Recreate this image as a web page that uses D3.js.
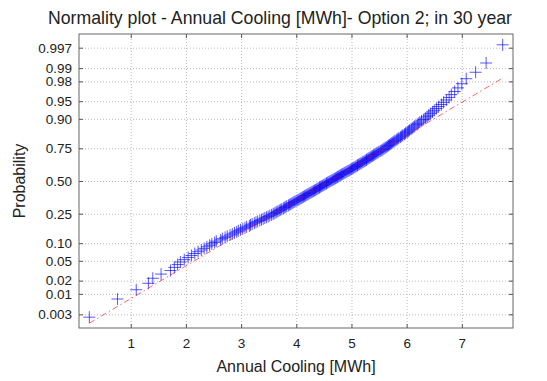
<!DOCTYPE html>
<html>
<head>
<meta charset="utf-8">
<script src="https://cdn.jsdelivr.net/npm/d3@7"></script>
<style>
  body { margin: 0; background: #fff; }
  svg { display: block; font-family: "Liberation Sans", Arial, sans-serif; }
  .axis path { display: none; }
  .axis line { stroke: #555; }
  .axis text { fill: #222; font-size: 13.5px; }
  .grid line { stroke: #bbb; stroke-dasharray: 1,2; }
  .grid path, .grid text { display: none; }
</style>
</head>
<body>
<script>
// sorted sample of annual cooling (MWh)
var coolingMWh = [
  0.25, 0.76, 1.10, 1.32, 1.40, 1.55, 1.72, 1.79, 1.85, 1.90,
  1.97, 2.04, 2.10, 2.16, 2.22, 2.28, 2.33, 2.38, 2.43, 2.47,
  2.52, 2.55, 2.63, 2.66, 2.71, 2.75, 2.80, 2.84, 2.88, 2.92,
  2.95, 2.99, 3.03, 3.07, 3.10, 3.15, 3.17, 3.20, 3.24, 3.27,
  3.30, 3.34, 3.37, 3.40, 3.43, 3.46, 3.49, 3.52, 3.55, 3.58,
  3.60, 3.63, 3.65, 3.67, 3.70, 3.72, 3.74, 3.77, 3.79, 3.81,
  3.83, 3.86, 3.88, 3.90, 3.92, 3.94, 3.96, 3.98, 4.01, 4.03,
  4.05, 4.07, 4.09, 4.11, 4.13, 4.15, 4.17, 4.19, 4.21, 4.23,
  4.25, 4.27, 4.29, 4.31, 4.33, 4.35, 4.37, 4.39, 4.41, 4.42,
  4.44, 4.46, 4.48, 4.50, 4.52, 4.54, 4.55, 4.57, 4.59, 4.61,
  4.63, 4.65, 4.67, 4.69, 4.71, 4.73, 4.75, 4.76, 4.78, 4.80,
  4.82, 4.84, 4.86, 4.88, 4.90, 4.92, 4.94, 4.96, 4.98, 5.00,
  5.02, 5.04, 5.06, 5.08, 5.10, 5.11, 5.13, 5.15, 5.17, 5.19,
  5.21, 5.23, 5.25, 5.27, 5.28, 5.30, 5.32, 5.34, 5.36, 5.38,
  5.40, 5.42, 5.44, 5.46, 5.48, 5.50, 5.53, 5.55, 5.57, 5.59,
  5.61, 5.63, 5.65, 5.67, 5.69, 5.71, 5.73, 5.75, 5.77, 5.79,
  5.82, 5.84, 5.86, 5.89, 5.91, 5.93, 5.96, 5.98, 6.01, 6.03,
  6.05, 6.08, 6.10, 6.13, 6.15, 6.19, 6.21, 6.24, 6.27, 6.31,
  6.34, 6.37, 6.40, 6.43, 6.47, 6.50, 6.54, 6.58, 6.63, 6.67,
  6.72, 6.77, 6.81, 6.87, 6.93, 7.00, 7.08, 7.25, 7.44, 7.74
];
var xTicks = [1, 2, 3, 4, 5, 6, 7];
var probTicks = [0.003, 0.01, 0.02, 0.05, 0.10, 0.25, 0.50, 0.75, 0.90, 0.95, 0.98, 0.99, 0.997];
var probLabels = ['0.003', '0.01', '0.02', '0.05', '0.10', '0.25', '0.50', '0.75', '0.90', '0.95', '0.98', '0.99', '0.997'];

var width = 547, height = 381;
var margin = { left: 79, top: 34, right: 34, bottom: 53 };
var w = width - margin.left - margin.right;
var h = height - margin.top - margin.bottom;

// inverse normal cdf (Acklam)
function norminv(p) {
    var a = [-3.969683028665376e+01, 2.209460984245205e+02, -2.759285104469687e+02, 1.383577518672690e+02, -3.066479806614716e+01, 2.506628277459239e+00];
    var b = [-5.447609879822406e+01, 1.615858368580409e+02, -1.556989798598866e+02, 6.680131188771972e+01, -1.328068155288572e+01];
    var c = [-7.784894002430293e-03, -3.223964580411365e-01, -2.400758277161838e+00, -2.549732539343734e+00, 4.374664141464968e+00, 2.938163982698783e+00];
    var d = [7.784695709041462e-03, 3.224671290700398e-01, 2.445134137142996e+00, 3.754408661907416e+00];
    var q, r;
    if (p < 0.02425) {
        q = Math.sqrt(-2 * Math.log(p));
        return (((((c[0]*q+c[1])*q+c[2])*q+c[3])*q+c[4])*q+c[5]) / ((((d[0]*q+d[1])*q+d[2])*q+d[3])*q+1);
    }
    if (p > 1 - 0.02425) {
        q = Math.sqrt(-2 * Math.log(1 - p));
        return -(((((c[0]*q+c[1])*q+c[2])*q+c[3])*q+c[4])*q+c[5]) / ((((d[0]*q+d[1])*q+d[2])*q+d[3])*q+1);
    }
    q = p - 0.5; r = q * q;
    return (((((a[0]*r+a[1])*r+a[2])*r+a[3])*r+a[4])*r+a[5])*q / (((((b[0]*r+b[1])*r+b[2])*r+b[3])*r+b[4])*r+1);
}

var n = coolingMWh.length;
var points = coolingMWh.map(function (v, i) {
    return { x: v, z: norminv((i + 0.5) / n) };
});

var xMin = d3.min(coolingMWh), xMax = d3.max(coolingMWh);
var pad = (xMax - xMin) / 40;
var x = d3.scaleLinear().domain([xMin - pad, xMax + pad]).range([0, w]);
var y = d3.scaleLinear().domain([-3.03, 3.03]).range([h, 0]);

var svg = d3.select("body").append("svg").attr("width", width).attr("height", height);
var g = svg.append("g").attr("transform", "translate(" + margin.left + "," + margin.top + ")");

// grid
g.append("g").attr("class", "grid")
    .attr("transform", "translate(0," + h + ")")
    .call(d3.axisBottom(x).tickValues(xTicks).tickSize(-h).tickFormat(""));
g.append("g").attr("class", "grid")
    .call(d3.axisLeft(y).tickValues(probTicks.map(norminv)).tickSize(-w).tickFormat(""));

// axes, ticks inside like matlab
g.append("g").attr("class", "axis")
    .attr("transform", "translate(0," + h + ")")
    .call(d3.axisBottom(x).tickValues(xTicks).tickSizeInner(-4).tickSizeOuter(0).tickPadding(10));
g.append("g").attr("class", "axis")
    .call(d3.axisTop(x).tickValues(xTicks).tickSizeInner(-4).tickSizeOuter(0).tickFormat(""));
g.append("g").attr("class", "axis")
    .call(d3.axisLeft(y).tickValues(probTicks.map(norminv)).tickSizeInner(-4).tickSizeOuter(0).tickPadding(7)
        .tickFormat(function (d, i) { return probLabels[i]; }));
g.append("g").attr("class", "axis")
    .attr("transform", "translate(" + w + ",0)")
    .call(d3.axisRight(y).tickValues(probTicks.map(norminv)).tickSizeInner(-4).tickSizeOuter(0).tickFormat(""));

g.append("rect").attr("width", w).attr("height", h)
    .attr("fill", "none").attr("stroke", "#666");

// reference line through quartiles
var q1 = d3.quantile(coolingMWh, 0.25), q3 = d3.quantile(coolingMWh, 0.75);
var zq = norminv(0.75);
var slope = 2 * zq / (q3 - q1);
var zAt = function (v) { return -zq + (v - q1) * slope; };
var line = d3.line().x(function (d) { return x(d); }).y(function (d) { return y(zAt(d)); });

g.append("path").attr("d", line([q1, q3]))
    .attr("fill", "none").attr("stroke", "#ff0000").attr("stroke-opacity", 0.6);

// data markers '+'
var s = 6;
g.append("g").selectAll("path").data(points).enter().append("path")
    .attr("d", function (d) {
        var px = x(d.x), py = y(d.z);
        return "M" + (px - s) + "," + py + "H" + (px + s) + "M" + px + "," + (py - s) + "V" + (py + s);
    })
    .attr("fill", "none")
    .attr("stroke", "#0000ff")
    .attr("stroke-opacity", 0.65)
    .attr("stroke-width", 1);

g.append("path").attr("d", line([xMin, xMax]))
    .attr("fill", "none").attr("stroke", "#ff0000").attr("stroke-opacity", 0.6)
    .attr("stroke-dasharray", "6,3,1.5,3");

// labels
svg.append("text").attr("x", 280).attr("y", 24).attr("text-anchor", "middle")
    .attr("font-size", "17.7px").attr("fill", "#222")
    .text("Normality plot - Annual Cooling [MWh]- Option 2; in 30 year");
svg.append("text").attr("x", margin.left + w / 2).attr("y", 372).attr("text-anchor", "middle")
    .attr("font-size", "16px").attr("fill", "#222")
    .text("Annual Cooling [MWh]");
svg.append("text").attr("transform", "translate(25," + (margin.top + h / 2) + ") rotate(-90)")
    .attr("text-anchor", "middle").attr("font-size", "16px").attr("fill", "#222")
    .text("Probability");
</script>
</body>
</html>
